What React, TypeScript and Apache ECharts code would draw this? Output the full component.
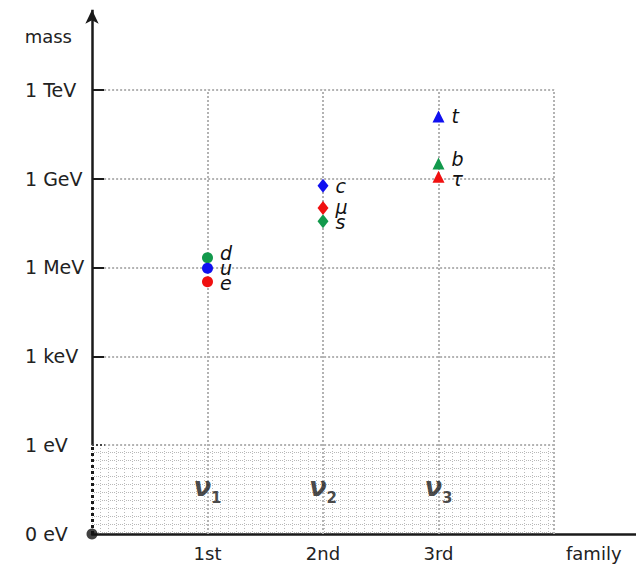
import React, { useEffect, useRef } from "react";
import * as echarts from "echarts";

// ---- data ----
const yLevels = [0, 1, 2, 3, 4, 5];
const yTickLabels = ["0 eV", "1 eV", "1 keV", "1 MeV", "1 GeV", "1 TeV"];
const yTickMarks = [2, 3, 4, 5];
const familyPos = [1, 2, 3];
const familyLabels = ["1st", "2nd", "3rd"];
const gridX = [1, 2, 3, 4];
const gridY = [1, 2, 3, 4, 5];
const familySymbols = ["circle", "diamond", "triangle"];

const particleNames = ["d", "u", "e", "c", "μ", "s", "t", "b", "τ"];
const particleFamily = [1, 1, 1, 2, 2, 2, 3, 3, 3];
const particleMass = [3.11, 2.99, 2.84, 3.92, 3.67, 3.52, 4.7, 4.17, 4.02];
const particleColor = [
  "#12994c", "#1010f0", "#f01010",
  "#1010f0", "#f01010", "#12994c",
  "#1010f0", "#12994c", "#f01010",
];
const particleLabelShift = [-5, 0, 1, 0, -1, 1, 0, -4, 2];

const neutrinoIndex = ["1", "2", "3"];
const neutrinoFamily = [1, 2, 3];
const neutrinoMass = [0.5, 0.5, 0.5];

const hatchRange = [0, 1, 4, 0]; // xMin, yMax, xMax, yMin

const FONT = "DejaVu Sans";

const patternSvg =
  "<svg xmlns='http://www.w3.org/2000/svg' width='8' height='8'>" +
  "<g fill='#b8b8b8'>" +
  "<rect x='0' y='4' width='1' height='1'/>" +
  "<rect x='2' y='4' width='1' height='1'/>" +
  "<rect x='6' y='4' width='1' height='1'/>" +
  "<rect x='4' y='0' width='1' height='1'/>" +
  "<rect x='4' y='3' width='1' height='1'/>" +
  "<rect x='4' y='5' width='1' height='1'/>" +
  "</g></svg>";
const patternUrl = "data:image/svg+xml;charset=utf-8," + encodeURIComponent(patternSvg);

export default function App() {
  const ref = useRef<HTMLDivElement>(null);
  useEffect(() => {
    document.body.style.margin = "0";
    const chart = echarts.init(ref.current!, null, { renderer: "svg" });

    const gridLines: any[] = [];
    gridX.forEach((x) => {
      gridLines.push([{ coord: [x, 0] }, { coord: [x, 5] }]);
    });
    gridY.forEach((y) => {
      gridLines.push([{ coord: [0.105, y] }, { coord: [4, y] }]);
    });
    const axisLines: any[] = [
      [
        { coord: [0, 1], symbol: "none", lineStyle: { color: "#1a1a1a", width: 2.5, type: "solid" } },
        { coord: [0, 5.9], symbol: "arrow" },
      ],
      [
        { coord: [0, 0], lineStyle: { color: "#1a1a1a", width: 3, type: [3, 3] } },
        { coord: [0, 1] },
      ],
      [
        { coord: [0, 1], lineStyle: { color: "#444", width: 2, type: [2, 2] } },
        { coord: [0.11, 1] },
      ],
    ];

    const option: any = {
      animation: false,
      grid: { left: 92, right: 0, top: 8, bottom: 30 },
      xAxis: {
        type: "value",
        min: 0,
        max: 4.71,
        axisLine: { show: true, onZero: false, lineStyle: { color: "#1a1a1a", width: 2.5 } },
        axisTick: { show: false },
        splitLine: { show: false },
        axisLabel: {
          customValues: familyPos,
          formatter: (v: number) => familyLabels[Math.round(v) - 1] ?? "",
          fontSize: 18,
          color: "#222",
          fontFamily: FONT,
          margin: 10,
        },
        name: "family",
        nameLocation: "end",
        nameGap: -70,
        nameMoveOverlap: false,
        nameTextStyle: {
          fontSize: 18,
          color: "#222",
          fontFamily: FONT,
          align: "left",
          verticalAlign: "top",
          padding: [10, 0, 0, 0],
        },
      },
      yAxis: {
        type: "value",
        min: 0,
        max: 5.92,
        axisLine: { show: false },
        axisTick: {
          show: true,
          customValues: yTickMarks,
          inside: true,
          length: 12,
          lineStyle: { color: "#1a1a1a", width: 2 },
        },
        splitLine: { show: false },
        axisLabel: {
          customValues: yLevels,
          formatter: (v: number) => yTickLabels[Math.round(v)] ?? "",
          align: "left",
          margin: 67,
          fontSize: 19,
          color: "#222",
          fontFamily: FONT,
        },
        name: "mass",
        nameLocation: "end",
        nameGap: -28,
        nameMoveOverlap: false,
        nameTextStyle: {
          fontSize: 18,
          color: "#222",
          fontFamily: FONT,
          align: "right",
          verticalAlign: "middle",
          padding: [0, 20, 8, 0],
        },
      },
      series: [
        {
          type: "custom",
          silent: true,
          z: 0,
          data: [hatchRange],
          renderItem: (params: any, api: any) => {
            const p0 = api.coord([api.value(0), api.value(1)]);
            const p1 = api.coord([api.value(2), api.value(3)]);
            return {
              type: "rect",
              shape: { x: p0[0], y: p0[1], width: p1[0] - p0[0], height: p1[1] - p0[1] },
              style: {
                fill: { image: patternUrl, repeat: "repeat", imageWidth: 8, imageHeight: 8 },
              },
            };
          },
        },
        {
          type: "scatter",
          silent: true,
          z: 3,
          symbol: "circle",
          symbolSize: 11,
          itemStyle: { color: "#111" },
          data: [[0, 0]],
          markLine: {
            silent: true,
            z: 1,
            symbol: "none",
            label: { show: false },
            lineStyle: { color: "#b3b3b3", width: 2, type: [2, 2] },
            data: [...gridLines, ...axisLines],
            symbolSize: [10, 14],
          },
        },
        {
          type: "scatter",
          z: 8,
          data: particleNames.map((n, i) => ({
            value: [particleFamily[i], particleMass[i]],
            symbol: familySymbols[particleFamily[i] - 1],
            symbolSize:
              particleFamily[i] === 1 ? 11 : particleFamily[i] === 2 ? [11, 14] : [12, 12],
            itemStyle: { color: particleColor[i], opacity: 1 },
            label: {
              show: true,
              formatter: n,
              position: "right",
              distance: 7,
              offset: [0, particleLabelShift[i]],
              fontSize: 19,
              lineHeight: 14,
              fontStyle: "italic",
              color: "#111",
              fontFamily: FONT,
            },
          })),
        },
        {
          type: "scatter",
          z: 8,
          symbolSize: 1,
          itemStyle: { color: "rgba(0,0,0,0)" },
          data: neutrinoIndex.map((n, i) => ({
            value: [neutrinoFamily[i], neutrinoMass[i]],
            label: {
              show: true,
              position: "inside",
              formatter: "{a|ν}{b|" + n + "}",
              rich: {
                a: {
                  fontSize: 26,
                  fontStyle: "italic",
                  fontWeight: "bold",
                  fontFamily: FONT,
                  color: "#1a1a1a",
                  verticalAlign: "top",
                  lineHeight: 32,
                },
                b: {
                  fontSize: 15,
                  fontWeight: "bold",
                  fontFamily: FONT,
                  color: "#1a1a1a",
                  verticalAlign: "bottom",
                  lineHeight: 32,
                },
              },
            },
          })),
        },
      ],
    };
    chart.setOption(option);
    return () => chart.dispose();
  }, []);
  return <div ref={ref} style={{ width: 636, height: 564 }} />;
}
